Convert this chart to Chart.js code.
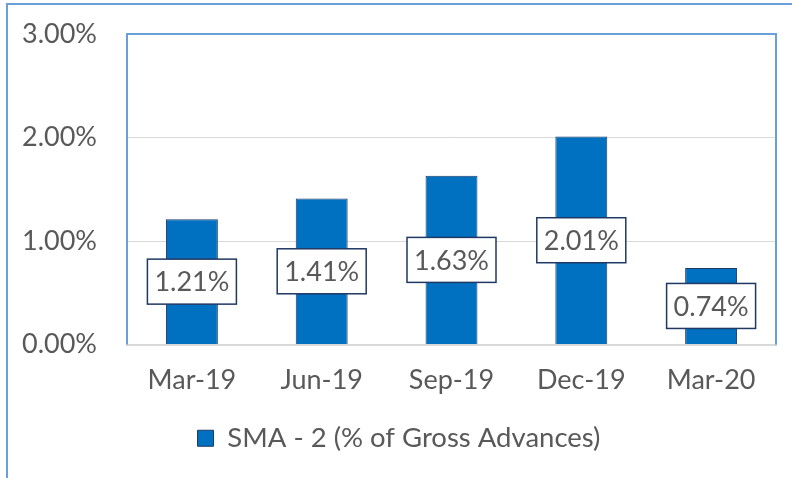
<!DOCTYPE html>
<html>
<head>
<meta charset="utf-8">
<script src="https://cdn.jsdelivr.net/npm/chart.js@4"></script>
<style>
  html, body { margin: 0; padding: 0; background: #fff; }
  #wrap { width: 792px; height: 478px; position: relative; }
</style>
</head>
<body>
<div id="wrap"><canvas id="chart"></canvas></div>
<script>
// dados do gráfico
const quarters = ['Mar-19', 'Jun-19', 'Sep-19', 'Dec-19', 'Mar-20'];
const smaValues = [1.21, 1.41, 1.63, 2.01, 0.74];
const seriesName = 'SMA - 2 (% of Gross Advances)';
const yTicks = [0, 1, 2, 3];

const FONT = 'Lato, "Open Sans", sans-serif';
const TEXT = '#595959';
const FRAME = '#6A9FD8';

// moldura externa e borda da área do gráfico
const framePlugin = {
    id: 'frame',
    afterDraw(chart) {
        const ctx = chart.ctx;
        const a = chart.chartArea;
        ctx.save();
        ctx.strokeStyle = FRAME;
        ctx.lineWidth = 2;
        ctx.beginPath();
        ctx.moveTo(7, chart.height);
        ctx.lineTo(7, 4);
        ctx.lineTo(chart.width, 4);
        ctx.stroke();
        ctx.beginPath();
        ctx.moveTo(a.left, a.bottom);
        ctx.lineTo(a.left, a.top);
        ctx.lineTo(a.right, a.top);
        ctx.lineTo(a.right, a.bottom);
        ctx.stroke();
        ctx.restore();
    }
};

// rótulos de valor em caixas brancas no meio das barras
const labelPlugin = {
    id: 'boxLabels',
    afterDatasetsDraw(chart) {
        const ctx = chart.ctx;
        const meta = chart.getDatasetMeta(0);
        ctx.save();
        ctx.font = '27px ' + FONT;
        ctx.textAlign = 'center';
        ctx.textBaseline = 'middle';
        meta.data.forEach((bar, i) => {
            const txt = smaValues[i].toFixed(2) + '%';
            const w = ctx.measureText(txt).width + 14;
            const h = 45;
            const cy = (bar.y + bar.base) / 2;
            ctx.fillStyle = '#fff';
            ctx.fillRect(bar.x - w / 2, cy - h / 2, w, h);
            ctx.strokeStyle = '#203864';
            ctx.lineWidth = 1.5;
            ctx.strokeRect(bar.x - w / 2, cy - h / 2, w, h);
            ctx.fillStyle = TEXT;
            ctx.fillText(txt, bar.x, cy + 1);
        });
        ctx.restore();
    }
};

new Chart(document.getElementById('chart'), {
    type: 'bar',
    data: {
        labels: quarters,
        datasets: [{
            label: seriesName,
            data: smaValues,
            backgroundColor: '#0070C0',
            borderColor: '#1F3864',
            borderWidth: 1,
            categoryPercentage: 1,
            barPercentage: 0.4
        }]
    },
    options: {
        responsive: true,
        maintainAspectRatio: false,
        animation: false,
        layout: { padding: { top: 34, right: 16, left: 22, bottom: 16 } },
        plugins: {
            legend: {
                position: 'bottom',
                labels: {
                    color: TEXT,
                    font: { family: FONT, size: 27.5 },
                    boxWidth: 16,
                    boxHeight: 16,
                    padding: 10
                }
            },
            tooltip: { enabled: false }
        },
        scales: {
            x: {
                grid: { display: false, drawTicks: false },
                border: { color: '#D9D9D9', width: 2 },
                ticks: { color: TEXT, font: { family: FONT, size: 27 }, padding: 20 },
                afterFit(s) { s.height = 70; }
            },
            y: {
                min: 0,
                max: 3,
                afterBuildTicks(s) { s.ticks = yTicks.map(v => ({ value: v })); },
                grid: { color: '#D9D9D9', lineWidth: 1, drawTicks: false },
                border: { display: false },
                ticks: {
                    color: TEXT,
                    font: { family: FONT, size: 27 },
                    padding: 0,
                    crossAlign: 'far',
                    callback: v => v.toFixed(2) + '%'
                },
                afterFit(s) { s.width = 105; }
            }
        }
    },
    plugins: [framePlugin, labelPlugin]
});
</script>
</body>
</html>
